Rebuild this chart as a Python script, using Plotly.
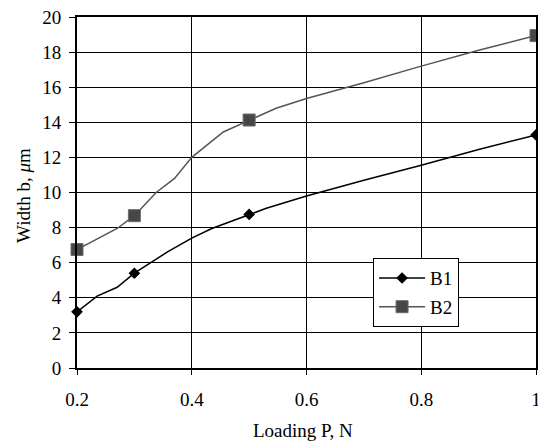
import plotly.graph_objects as go

b1_x = [0.2, 0.235, 0.27, 0.3, 0.357, 0.4, 0.435, 0.5, 0.53, 0.6, 0.7, 0.8, 0.9, 1.0]
b1_y = [3.2, 4.1, 4.6, 5.4, 6.6, 7.4, 7.95, 8.75, 9.1, 9.8, 10.7, 11.55, 12.45, 13.28]
b2_x = [0.2, 0.27, 0.3, 0.338, 0.37, 0.4, 0.455, 0.5, 0.547, 0.6, 0.7, 0.8, 0.9, 1.0]
b2_y = [6.75, 7.95, 8.68, 10.0, 10.8, 12.0, 13.45, 14.13, 14.8, 15.36, 16.25, 17.2, 18.1, 18.94]
# measured points carrying markers
b1_mx = [0.2, 0.3, 0.5, 1.0]
b1_my = [3.2, 5.4, 8.75, 13.28]
b2_mx = [0.2, 0.3, 0.5, 1.0]
b2_my = [6.75, 8.68, 14.13, 18.94]

x_ticks = [0.2, 0.4, 0.6, 0.8, 1.0]
x_tick_labels = ["0.2", "0.4", "0.6", "0.8", "1"]
y_ticks = list(range(0, 21, 2))

FONT = "Liberation Serif"
FS = 19
B1_COL = "#000000"
B2_COL = "#555555"
B2_MK = "#474747"

fig = go.Figure()
fig.add_trace(go.Scatter(x=b1_x, y=b1_y, mode="lines", line=dict(color=B1_COL, width=1.5),
                         showlegend=False, cliponaxis=False, hoverinfo="skip"))
fig.add_trace(go.Scatter(x=b2_x, y=b2_y, mode="lines", line=dict(color=B2_COL, width=1.5),
                         showlegend=False, cliponaxis=False, hoverinfo="skip"))
fig.add_trace(go.Scatter(x=b1_mx, y=b1_my, mode="markers", showlegend=False, cliponaxis=False,
                         marker=dict(symbol="diamond", size=9, color=B1_COL)))
fig.add_trace(go.Scatter(x=b2_mx, y=b2_my, mode="markers", showlegend=False, cliponaxis=False,
                         marker=dict(symbol="square", size=12, color=B2_MK,
                                     line=dict(color="#6a6a6a", width=1))))
# legend entries
fig.add_trace(go.Scatter(x=[None], y=[None], mode="lines+markers", name="B1", legendgroup="a",
                         line=dict(color=B1_COL, width=1.5),
                         marker=dict(symbol="diamond", size=9, color=B1_COL)))
fig.add_trace(go.Scatter(x=[None], y=[None], mode="lines+markers", name="B2", legendgroup="b",
                         line=dict(color=B2_COL, width=1.5),
                         marker=dict(symbol="square", size=12, color=B2_MK,
                                     line=dict(color="#6a6a6a", width=1))))

fig.update_layout(
    template="none",
    width=538, height=443,
    margin=dict(l=77, r=2, t=17, b=75),
    paper_bgcolor="white", plot_bgcolor="white",
    font=dict(family=FONT, size=FS, color="black"),
    showlegend=True,
    legend=dict(x=0.645, y=0.313, xanchor="left", yanchor="top",
                bgcolor="white", bordercolor="black", borderwidth=1,
                font=dict(family=FONT, size=FS), itemwidth=46,
                traceorder="grouped", tracegroupgap=1),
    xaxis=dict(range=[0.2, 1.0], tickvals=x_ticks, ticktext=x_tick_labels,
               showgrid=True, gridcolor="black", gridwidth=1,
               showline=True, linecolor="black", linewidth=2, mirror=True,
               ticks="outside", ticklen=5, tickcolor="black", tickwidth=1,
               ticklabelstandoff=8, ticklabeloverflow="allow",
               zeroline=False, automargin=False,
               tickfont=dict(family=FONT, size=FS)),
    yaxis=dict(range=[0, 20], tickvals=y_ticks,
               showgrid=True, gridcolor="black", gridwidth=1,
               showline=True, linecolor="black", linewidth=2, mirror=True,
               ticks="outside", ticklen=6, tickcolor="black", tickwidth=1,
               ticklabelstandoff=4, ticklabeloverflow="allow",
               zeroline=False, automargin=False,
               tickfont=dict(family=FONT, size=FS)),
    annotations=[
        dict(text="Loading P, N", xref="paper", yref="paper", x=0.492, y=-0.177,
             xanchor="center", yanchor="middle", showarrow=False,
             font=dict(family=FONT, size=FS)),
        dict(text="Width b, <i>μ</i>m", xref="paper", yref="paper", x=-0.1155, y=0.493,
             xanchor="center", yanchor="middle", showarrow=False, textangle=-90,
             font=dict(family=FONT, size=FS)),
    ],
)

fig.write_html("out.html", config={"displayModeBar": False},
               post_script="document.body.style.margin='0';document.body.style.overflow='hidden';")
